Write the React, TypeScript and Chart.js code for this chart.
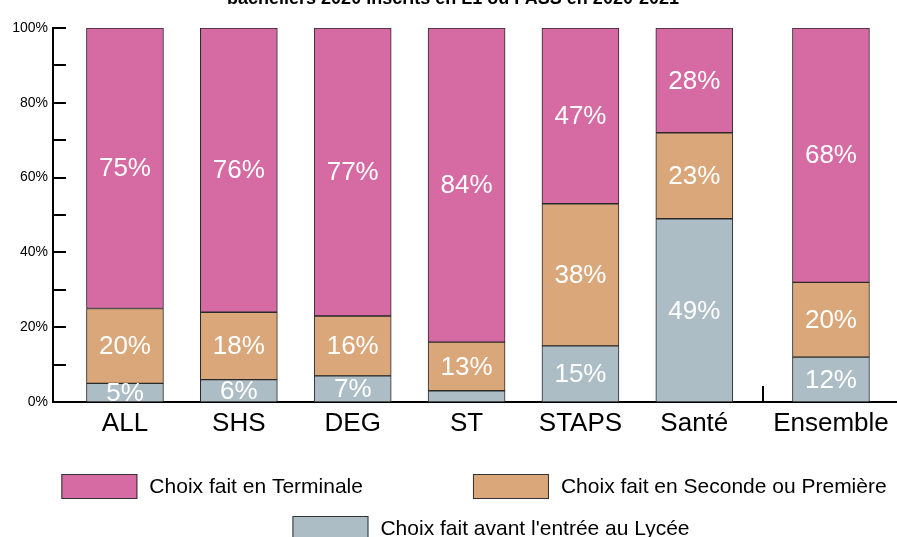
import React, { useEffect, useRef } from "react";
import { Chart, registerables } from "chart.js";

Chart.register(...registerables);

// ---------- data ----------
const categories = ["ALL", "SHS", "DEG", "ST", "STAPS", "Santé", "Ensemble"];
const avantLycee = [5, 6, 7, 3, 15, 49, 12];
const secondePremiere = [20, 18, 16, 13, 38, 23, 20];
const terminale = [75, 76, 77, 84, 47, 28, 68];
const yTickValues = [0, 20, 40, 60, 80, 100];
const yMinorTickValues = [0, 10, 20, 30, 40, 50, 60, 70, 80, 90, 100];
const labelAvant = "Choix fait avant l'entrée au Lycée";
const labelSeconde = "Choix fait en Seconde ou Première";
const labelTerminale = "Choix fait en Terminale";
const titleText = "bacheliers 2020 inscrits en L1 ou PASS en 2020-2021";
const totalCategory = "Ensemble";
const minLabelValue = 5;

// ---------- style ----------
const FONT = '"Liberation Sans", Arial, Helvetica, sans-serif';
const PINK = "rgb(214,106,162)";
const ORANGE = "rgb(217,167,122)";
const BLUE = "rgb(173,189,197)";
const BORDER = "#2a2a2a";
const TOTAL_GAP = 0.2;

const xPos = categories.map((c, i) => i + (c === totalCategory ? TOTAL_GAP : 0));
const toPoints = (arr: number[]) => arr.map((v, i) => ({ x: xPos[i], y: v }));

const valueLabels = {
  id: "valueLabels",
  afterDatasetsDraw(chart: any) {
    const ctx = chart.ctx;
    const a = chart.chartArea;
    ctx.save();
    ctx.beginPath();
    ctx.rect(a.left, a.top, a.right - a.left, a.bottom - a.top);
    ctx.clip();
    ctx.font = `26px ${FONT}`;
    ctx.fillStyle = "#ffffff";
    ctx.textAlign = "center";
    ctx.textBaseline = "middle";
    chart.data.datasets.forEach((ds: any, di: number) => {
      const meta = chart.getDatasetMeta(di);
      meta.data.forEach((el: any, i: number) => {
        const v = ds.data[i].y;
        if (v < minLabelValue) return;
        const p = el.getProps(["x", "y", "base"], true);
        ctx.fillText(v + "%", p.x, (p.y + p.base) / 2 + 1);
      });
    });
    ctx.restore();
  },
};

const decorations = {
  id: "decorations",
  afterDraw(chart: any) {
    const ctx = chart.ctx;
    const a = chart.chartArea;
    const ys = chart.scales.y;
    const xs = chart.scales.x;
    ctx.save();
    // inner y ticks
    ctx.strokeStyle = "#000";
    ctx.lineWidth = 2;
    yMinorTickValues.forEach((v) => {
      const y = Math.round(ys.getPixelForValue(v));
      ctx.beginPath();
      ctx.moveTo(a.left, y);
      ctx.lineTo(a.left + 13, y);
      ctx.stroke();
    });
    // separator tick before the total
    const iTot = categories.indexOf(totalCategory);
    const sepX = Math.round(xs.getPixelForValue((xPos[iTot] + xPos[iTot - 1]) / 2));
    ctx.beginPath();
    ctx.moveTo(sepX, a.bottom - 16);
    ctx.lineTo(sepX, a.bottom);
    ctx.stroke();

    // title (clipped at top)
    ctx.fillStyle = "#000";
    ctx.font = `bold 18px ${FONT}`;
    ctx.textAlign = "center";
    ctx.textBaseline = "alphabetic";
    ctx.fillText(titleText, 453, 4);

    // legend
    const dsByLabel: any = {};
    chart.data.datasets.forEach((d: any) => (dsByLabel[d.label] = d));
    const rows = [
      { items: [labelTerminale, labelSeconde], center: 474, top: 474, gap: 110 },
      { items: [labelAvant], center: 491, top: 516, gap: 0 },
    ];
    const boxW = 76;
    const boxH = 25;
    const textGap = 12;
    ctx.font = `21px ${FONT}`;
    ctx.textAlign = "left";
    ctx.textBaseline = "middle";
    rows.forEach((row) => {
      const widths = row.items.map((t) => boxW + textGap + ctx.measureText(t).width);
      const total = widths.reduce((s, w) => s + w, 0) + row.gap * (row.items.length - 1);
      let x = row.center - total / 2;
      row.items.forEach((t, k) => {
        const d = dsByLabel[t];
        ctx.fillStyle = d.backgroundColor;
        ctx.fillRect(x, row.top, boxW, boxH);
        ctx.strokeStyle = "#333";
        ctx.lineWidth = 1;
        ctx.strokeRect(x + 0.5, row.top + 0.5, boxW - 1, boxH - 1);
        ctx.fillStyle = "#000";
        ctx.fillText(t, x + boxW + textGap, row.top + boxH / 2 + 1);
        x += widths[k] + row.gap;
      });
    });
    ctx.restore();
  },
};

export default function App() {
  const ref = useRef<HTMLCanvasElement | null>(null);

  useEffect(() => {
    if (!ref.current) return;
    const chart = new Chart(ref.current, {
      type: "bar",
      data: {
        datasets: [
          { label: labelAvant, data: toPoints(avantLycee) as any, backgroundColor: BLUE },
          { label: labelSeconde, data: toPoints(secondePremiere) as any, backgroundColor: ORANGE },
          { label: labelTerminale, data: toPoints(terminale) as any, backgroundColor: PINK },
        ],
      },
      options: {
        responsive: false,
        animation: false,
        devicePixelRatio: 1,
        layout: { padding: { top: 28, left: 0, right: 0, bottom: 0 } },
        datasets: {
          bar: {
            barThickness: 77,
            borderWidth: 1,
            borderColor: BORDER,
            borderSkipped: false,
          },
        } as any,
        plugins: {
          legend: { display: false },
          tooltip: { enabled: false },
          title: { display: false },
        },
        scales: {
          x: {
            type: "linear",
            stacked: true,
            offset: false,
            min: -0.632,
            max: 6.78,
            grid: { display: false, drawTicks: false, offset: false },
            border: { display: true, color: "#000", width: 2 },
            afterBuildTicks: (s: any) => {
              s.ticks = xPos.map((v) => ({ value: v }));
            },
            afterFit: (s: any) => {
              s.height = 135;
            },
            ticks: {
              callback: (_v: any, i: number) => categories[i],
              font: { family: FONT, size: 26 },
              color: "#000",
              padding: 6,
              maxRotation: 0,
              autoSkip: false,
            },
          },
          y: {
            stacked: true,
            min: 0,
            max: 100,
            grid: { display: false, drawTicks: false },
            border: { display: true, color: "#000", width: 2 },
            afterBuildTicks: (s: any) => {
              s.ticks = yTickValues.map((v) => ({ value: v }));
            },
            afterFit: (s: any) => {
              s.width = 53;
            },
            ticks: {
              callback: (v: any) => v + "%",
              font: { family: FONT, size: 14 },
              color: "#000",
              padding: 5,
            },
          },
        } as any,
      },
      plugins: [valueLabels, decorations],
    });
    return () => chart.destroy();
  }, []);

  return (
    <div style={{ position: "fixed", left: 0, top: 0, width: 897, height: 537, background: "#fff" }}>
      <canvas ref={ref} width={897} height={537} style={{ display: "block" }} />
    </div>
  );
}
